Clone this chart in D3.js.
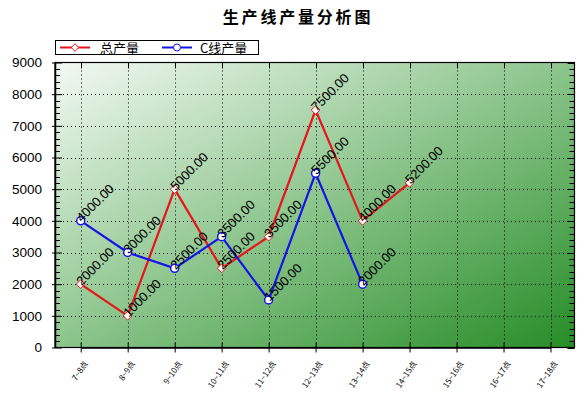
<!DOCTYPE html>
<html>
<head>
<meta charset="utf-8">
<script src="https://cdn.jsdelivr.net/npm/d3@7"></script>
<style>
  body { margin: 0; background: #fff; }
  svg { display: block; font-family: "Liberation Sans", Arial, "Noto Sans CJK SC", sans-serif; }
</style>
</head>
<body>
<svg id="chart"></svg>
<script>
"use strict";

const categories = ["7~8点", "8~9点", "9~10点", "10~11点", "11~12点", "12~13点",
    "13~14点", "14~15点", "15~16点", "16~17点", "17~18点"];
const totalValues = [2000, 1000, 5000, 2500, 3500, 7500, 4000, 5200];
const lineCValues = [4000, 3000, 2500, 3500, 1500, 5500, 2000];
const yTicks = [0, 1000, 2000, 3000, 4000, 5000, 6000, 7000, 8000, 9000];
const seriesNames = ["总产量", "C线产量"];

const width = 588, height = 395;
const plot = { left: 55, right: 574.5, top: 62.5, bottom: 347.5 };
const CJK = "'Noto Sans CJK SC', sans-serif";

const svg = d3.select("#chart").attr("width", width).attr("height", height);

const x = d3.scalePoint().domain(categories).range([80.7, 550.5]);
const y = d3.scaleLinear().domain([0, 9000]).range([plot.bottom, plot.top]);

// background gradient
const grad = svg.append("defs").append("linearGradient")
    .attr("id", "bg").attr("x1", 0).attr("y1", 0).attr("x2", 1).attr("y2", 1);
grad.append("stop").attr("offset", 0).attr("stop-color", "#f4faf4");
grad.append("stop").attr("offset", 0.5).attr("stop-color", "#8cc58c");
grad.append("stop").attr("offset", 1).attr("stop-color", "#268c26");

svg.append("rect")
    .attr("x", plot.left).attr("y", plot.top)
    .attr("width", plot.right - plot.left).attr("height", plot.bottom - plot.top)
    .attr("fill", "url(#bg)");

// title
svg.append("text")
    .attr("x", 298).attr("y", 23)
    .attr("text-anchor", "middle")
    .style("font-family", CJK).style("font-weight", "bold").style("font-size", "16px")
    .style("letter-spacing", "2.8px")
    .text("生产线产量分析图");

// dotted grid
const grid = svg.append("g").attr("stroke", "#000").attr("stroke-dasharray", "1,3").attr("stroke-width", 1);
grid.selectAll(".hg").data(yTicks.slice(1, -1)).enter().append("line")
    .attr("x1", plot.left).attr("x2", plot.right)
    .attr("y1", d => Math.round(y(d)) + 0.5).attr("y2", d => Math.round(y(d)) + 0.5);
grid.selectAll(".vg").data(categories).enter().append("line")
    .attr("x1", d => Math.round(x(d)) + 0.5).attr("x2", d => Math.round(x(d)) + 0.5)
    .attr("y1", plot.top).attr("y2", plot.bottom);

// y axis with major + minor ticks, mirrored on the right
const yAxis = svg.append("g").attr("transform", `translate(${plot.left},0)`)
    .call(d3.axisLeft(y).tickValues(yTicks).tickFormat(d3.format("d")).tickSize(3).tickSizeOuter(0));
yAxis.selectAll(".tick line").attr("x2", -3).attr("x1", 7);
yAxis.selectAll("text").attr("x", -13).style("font-size", "13.5px").attr("fill", "#000");
yAxis.select(".domain").attr("stroke-width", 1.5);

const minor = d3.range(0, 9001, 200).filter(v => v % 1000 !== 0);
svg.append("g").selectAll("line").data(minor).enter().append("line")
    .attr("x1", plot.left).attr("x2", plot.left + 5)
    .attr("y1", d => Math.round(y(d)) + 0.5).attr("y2", d => Math.round(y(d)) + 0.5)
    .attr("stroke", "#000");
svg.append("g").selectAll("line").data(d3.range(0, 9001, 200)).enter().append("line")
    .attr("x1", plot.right).attr("x2", d => plot.right - (d % 1000 === 0 ? 7 : 5))
    .attr("y1", d => Math.round(y(d)) + 0.5).attr("y2", d => Math.round(y(d)) + 0.5)
    .attr("stroke", "#000");

// frame
svg.append("rect")
    .attr("x", plot.left).attr("y", plot.top)
    .attr("width", plot.right - plot.left).attr("height", plot.bottom - plot.top)
    .attr("fill", "none").attr("stroke", "#000").attr("stroke-width", 1.2);

// x axis
const xAxis = svg.append("g").attr("transform", `translate(0,${plot.bottom})`)
    .call(d3.axisBottom(x).tickSize(5).tickSizeOuter(0));
xAxis.select(".domain").attr("stroke-width", 1.5);
xAxis.selectAll(".tick line").attr("y1", -5).attr("y2", 5);
xAxis.selectAll("text")
    .attr("y", 0).attr("dy", 0)
    .attr("transform", "translate(7,16) rotate(-56)")
    .attr("text-anchor", "end")
    .style("font-family", CJK).style("font-size", "8px").attr("fill", "#000");

// top ticks
svg.append("g").selectAll("line").data(categories).enter().append("line")
    .attr("x1", d => Math.round(x(d)) + 0.5).attr("x2", d => Math.round(x(d)) + 0.5)
    .attr("y1", plot.top).attr("y2", plot.top + 6).attr("stroke", "#000");

// series
const series = [
    { name: seriesNames[0], values: totalValues, color: "#e8141c", marker: "diamond" },
    { name: seriesNames[1], values: lineCValues, color: "#1414e6", marker: "circle" }
];

const line = d3.line().x((d, i) => x(categories[i])).y(d => y(d));
const diamond = d3.symbol().type(d3.symbolDiamond2).size(48);

series.forEach(s => {
    const g = svg.append("g");
    g.append("path").datum(s.values)
        .attr("d", line).attr("fill", "none")
        .attr("stroke", s.color).attr("stroke-width", 2.2);
    const pts = g.selectAll(".pt").data(s.values).enter().append("g")
        .attr("transform", (d, i) => `translate(${x(categories[i])},${y(d)})`);
    if (s.marker === "diamond") {
        pts.append("path").attr("d", diamond).attr("fill", "#fff").attr("stroke", s.color).attr("stroke-width", 1);
    } else {
        pts.append("circle").attr("r", 4).attr("fill", "#fff").attr("stroke", s.color).attr("stroke-width", 1.5);
    }
});

// data labels
series.forEach(s => {
    svg.append("g").selectAll("text").data(s.values).enter().append("text")
        .attr("transform", (d, i) => `translate(${x(categories[i]) + 1},${y(d) + 2}) rotate(-45)`)
        .style("font-size", "13px")
        .text(d => d3.format(".2f")(d));
});

// legend
const legend = svg.append("g");
legend.append("rect").attr("x", 55.5).attr("y", 40.5).attr("width", 203).attr("height", 14)
    .attr("fill", "#fff").attr("stroke", "#000");
const legendItems = [
    { x0: 60, tx: 100, s: series[0] },
    { x0: 162, tx: 200, s: series[1] }
];
legendItems.forEach(it => {
    legend.append("line").attr("x1", it.x0).attr("x2", it.x0 + 30).attr("y1", 47.5).attr("y2", 47.5)
        .attr("stroke", it.s.color).attr("stroke-width", 2);
    if (it.s.marker === "diamond") {
        legend.append("path").attr("d", d3.symbol().type(d3.symbolDiamond2).size(36))
            .attr("transform", `translate(${it.x0 + 15},47.5)`)
            .attr("fill", "#fff").attr("stroke", it.s.color);
    } else {
        legend.append("circle").attr("cx", it.x0 + 15).attr("cy", 47.5).attr("r", 3.5)
            .attr("fill", "#fff").attr("stroke", it.s.color);
    }
    legend.append("text").attr("x", it.tx).attr("y", 52.5)
        .style("font-family", CJK).style("font-size", "13px")
        .text(it.s.name);
});
</script>
</body>
</html>
